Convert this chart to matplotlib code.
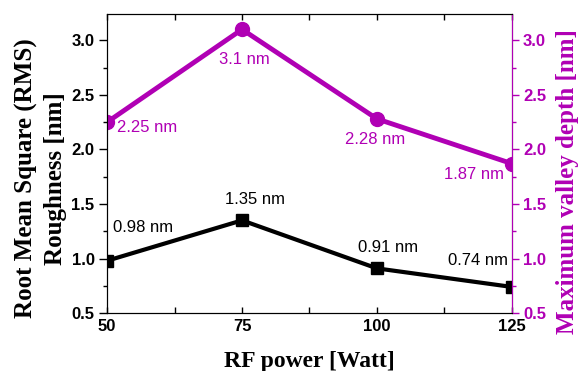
import matplotlib
matplotlib.use('Agg')
from matplotlib import pyplot as plt
from matplotlib.ticker import MultipleLocator

# data
power = [50, 75, 100, 125]
rms = [0.98, 1.35, 0.91, 0.74]
valley = [2.25, 3.1, 2.28, 1.87]
rms_labels = ['0.98 nm', '1.35 nm', '0.91 nm', '0.74 nm']
valley_labels = ['2.25 nm', '3.1 nm', '2.28 nm', '1.87 nm']

purple = '#B000B4'
plt.rcParams['font.family'] = 'Liberation Sans'

fig = plt.figure(figsize=(5.79, 3.71), dpi=100)
ax = fig.add_axes([0.185, 0.156, 0.699, 0.806])
ax2 = ax.twinx()

ax.plot(power, rms, color='black', lw=3, marker='s', ms=9)
ax2.plot(power, valley, color=purple, lw=3.5, marker='o', ms=10)

for a in (ax, ax2):
    a.set_xlim(50, 125)
    a.set_ylim(0.5, 3.24)
    a.yaxis.set_major_locator(MultipleLocator(0.5))
    a.yaxis.set_minor_locator(MultipleLocator(0.25))

ax.xaxis.set_major_locator(MultipleLocator(25))
ax.xaxis.set_minor_locator(MultipleLocator(12.5))
ax.tick_params(axis='x', which='both', direction='in', top=True, length=4, width=1,
               labelsize=12, pad=4)
ax.tick_params(axis='y', which='major', direction='out', length=6, width=1, labelsize=12, pad=3)
ax.tick_params(axis='y', which='minor', direction='out', length=3, width=1)
ax2.tick_params(axis='y', which='major', direction='out', length=5, width=1, labelsize=12,
                colors=purple, pad=3)
ax2.tick_params(axis='y', which='minor', direction='out', length=3, width=1, colors=purple)
ax2.spines['right'].set_color(purple)

for lab in ax.get_xticklabels() + ax.get_yticklabels() + ax2.get_yticklabels():
    lab.set_fontweight('bold')

ax.set_xlabel('RF power [Watt]', family='Liberation Serif', fontweight='bold', fontsize=17)
ax.xaxis.set_label_coords(0.5, -0.128)
ax.set_ylabel('Root Mean Square (RMS)\nRoughness [nm]', family='Liberation Serif',
              fontweight='bold', fontsize=18, linespacing=1.3)
ax.yaxis.set_label_coords(-0.10, 0.45)
ax2.set_ylabel('Maximum valley depth [nm]', family='Liberation Serif', fontweight='bold',
               fontsize=18, color=purple, rotation=90)
ax2.yaxis.set_label_coords(1.11, 0.44)

# annotations (offsets in points)
rms_off = [(4, 24, 'left'), (9, 15, 'center'), (8, 15, 'center'), (-3, 19, 'right')]
for x, y, t, (dx, dy, ha) in zip(power, rms, rms_labels, rms_off):
    ax.annotate(t, (x, y), xytext=(dx, dy), textcoords='offset points', ha=ha,
                va='center', fontsize=12, annotation_clip=False)
val_off = [(7, -4, 'left'), (2, -22, 'center'), (-1, -15, 'center'), (-6, -8, 'right')]
for x, y, t, (dx, dy, ha) in zip(power, valley, valley_labels, val_off):
    ax2.annotate(t, (x, y), xytext=(dx, dy), textcoords='offset points', ha=ha,
                 va='center', fontsize=12, color=purple, annotation_clip=False)

fig.savefig('out.png', dpi=100)
